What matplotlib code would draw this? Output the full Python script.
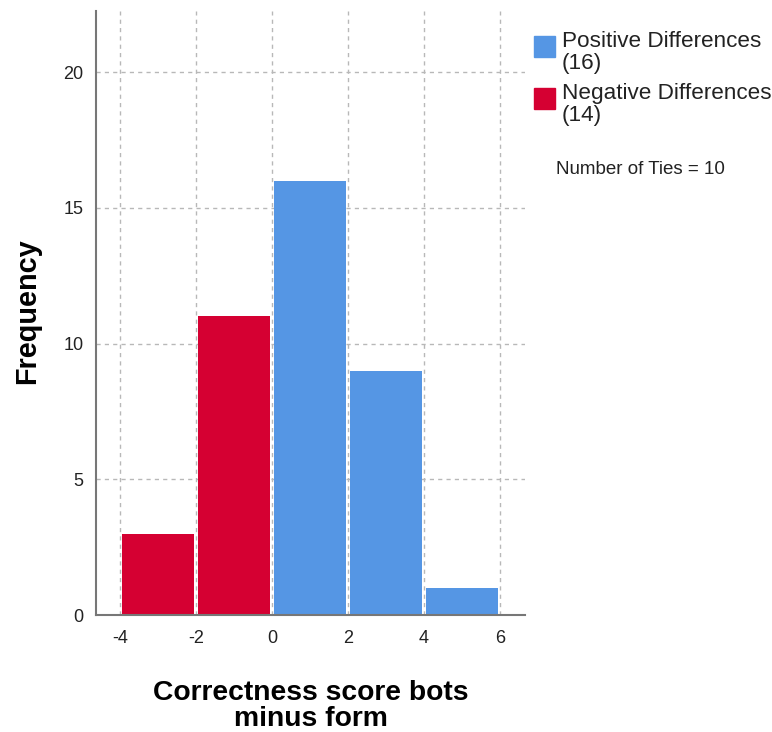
import matplotlib
matplotlib.use("Agg")
import matplotlib.pyplot as plt
from matplotlib.patches import Rectangle

plt.rcParams['font.family'] = ['Liberation Sans', 'DejaVu Sans']
plt.rcParams['axes.unicode_minus'] = False

bin_edges = [-4, -2, 0, 2, 4, 6]
neg_counts = [3, 11, 0, 0, 0]
pos_counts = [0, 0, 16, 9, 1]
x_ticks = [-4, -2, 0, 2, 4, 6]
y_ticks = [0, 5, 10, 15, 20]
legend_labels = ["Positive Differences\n(16)", "Negative Differences\n(14)"]
ties_text = "Number of Ties = 10"
x_label = "Correctness score bots\nminus form"
y_label = "Frequency"

blue = '#5596e4'
red = '#d50032'

W, H = 772, 732
fig = plt.figure(figsize=(W / 100, H / 100), dpi=100)
ax = fig.add_axes([96 / W, 1 - 615 / H, (525 - 96) / W, (615 - 11) / H])

gap = 0.1
lefts = [a + gap / 2 for a in bin_edges[:-1]]
widths = [b - a - gap for a, b in zip(bin_edges[:-1], bin_edges[1:])]
ax.bar(lefts, neg_counts, width=widths, align='edge', color=red,
       linewidth=0, zorder=3)
ax.bar(lefts, pos_counts, width=widths, align='edge', color=blue,
       linewidth=0, zorder=3)

ax.set_xlim(-4.63, 6.66)
ax.set_ylim(0, 22.25)
ax.set_xticks(x_ticks)
ax.set_yticks(y_ticks)
ax.tick_params(length=0, labelsize=13, colors='#222222')
ax.tick_params(axis='x', pad=11)
ax.tick_params(axis='y', pad=9)
ax.grid(True, color='#b8b8b8', linestyle=(0, (3, 3)), linewidth=1, zorder=0)
for s in ['top', 'right']:
    ax.spines[s].set_visible(False)
for s in ['left', 'bottom']:
    ax.spines[s].set_color('#777777')
    ax.spines[s].set_linewidth(1.5)
    ax.spines[s].set_zorder(4)

fig.text(311 / W, 1 - 706 / H, x_label, ha='center', va='center',
         fontsize=20.3, fontweight='bold', linespacing=1.0)
fig.text(27 / W, 1 - 311 / H, y_label, ha='center', va='center',
         rotation=90, fontsize=20.8, fontweight='bold')

# legend
for i, (lab, col) in enumerate(zip(legend_labels, [blue, red])):
    y0 = 36 + i * 52
    fig.patches.append(Rectangle((534 / W, 1 - (y0 + 21) / H), 21 / W, 21 / H,
                                 transform=fig.transFigure, color=col))
    fig.text(562 / W, 1 - (y0 - 5) / H, lab, ha='left', va='top',
             fontsize=16.2, linespacing=1.04, color='#222222')
fig.text(556 / W, 1 - 169 / H, ties_text, ha='left', va='center',
         fontsize=13.5, color='#222222')

fig.savefig('out.png', dpi=100, facecolor='white')
